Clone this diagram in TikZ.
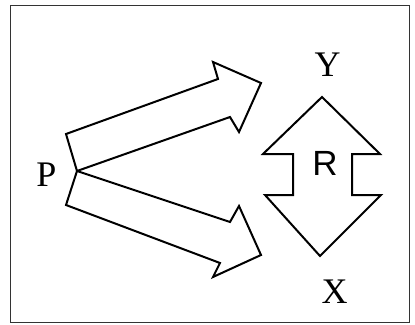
\documentclass[tikz,border=0pt]{standalone}
\usepackage{fontspec}
\setmainfont{Liberation Serif}
\setsansfont{Liberation Sans}
\begin{document}
\begin{tikzpicture}[x=1pt,y=-1pt,line join=miter,
  letter/.style={inner sep=0pt,font=\fontsize{36}{36}\selectfont},
  shapeline/.style={draw=black,line width=2pt}]
	\useasboundingbox (0,0) rectangle (415,324);
	\draw[line width=0.8pt,black!80] (10,5) rectangle (409,322);
	\coordinate (p) at (77,171);
	% upper arrow
	\draw[shapeline] (p)--(66,134)--(218,79)--(213,62)--(261,83)--(239,132)--(230,117)--cycle;
	% lower arrow
	\draw[shapeline] (p)--(66,205)--(220,263)--(213,277)--(261,255)--(239,206)--(230,222)--cycle;
	% double arrow
	\draw[shapeline] (322,97)--(380,154)--(352,154)--(352,195)--(381,195)--(320,256)
		--(265,195)--(293,195)--(293,154)--(263,154)--cycle;
	\node[letter] (lp) at (46.5,174.5) {P};
	\node[letter] (ly) at (327.5,65) {Y};
	\node[letter] (lx) at (334.5,292) {X};
	\node[inner sep=0pt,font=\fontsize{35}{35}\selectfont\sffamily] (lr) at (325,163) {R};
\end{tikzpicture}
\end{document}
